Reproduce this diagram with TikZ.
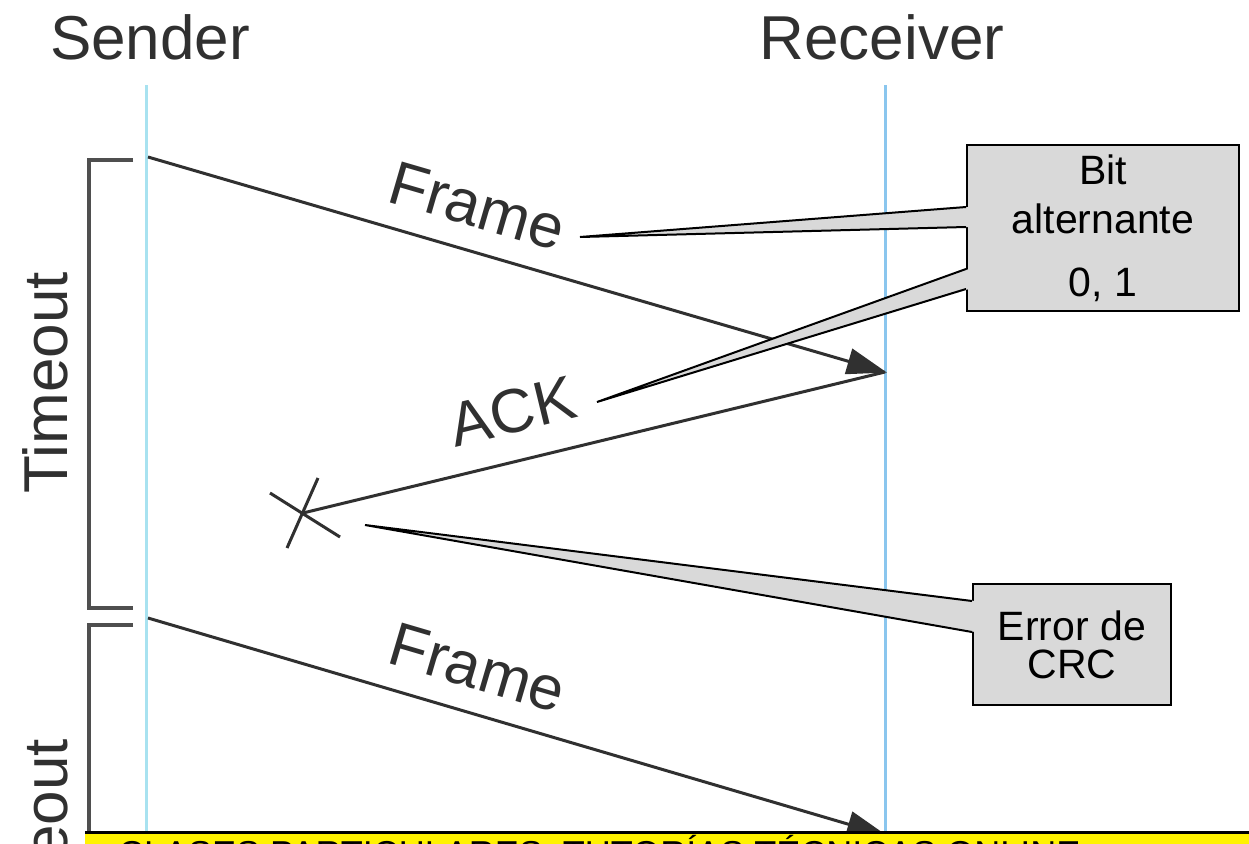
\documentclass[tikz,border=0pt]{standalone}
\usepackage{fontspec}
\setmainfont{Liberation Sans}
\usetikzlibrary{arrows.meta,calc}
\definecolor{sndlife}{RGB}{168,226,240}
\definecolor{rcvlife}{RGB}{138,198,238}
\definecolor{msgcol}{RGB}{48,48,48}
\definecolor{boxgray}{RGB}{217,217,217}
\newcommand{\bigfont}{\fontsize{62}{62}\selectfont}
\newcommand{\boxfont}{\fontsize{41}{49}\selectfont}
\newcommand{\drawbracket}[2]{\draw[bracket] (133,#1) -- (89,#1) -- (89,#2) -- (133,#2);}
\newcommand{\drawcross}[1]{%
  \draw[msg] ($(#1)+(-33,-20)$) -- ($(#1)+(37,24)$);
  \draw[msg] ($(#1)+(15,-35)$) -- ($(#1)+(-16,35)$);}
\newcommand{\calloutwedge}[4]{%
  \fill[boxgray] ($(#1.north west)+(3,#2)$) -- (#4) -- ($(#1.north west)+(3,#3)$) -- cycle;
  \draw[line width=2pt] ($(#1.north west)+(0,#2)$) -- (#4) -- ($(#1.north west)+(0,#3)$);}
\tikzset{
  lbl/.style={font=\bigfont, text=msgcol, inner sep=0pt},
  msg/.style={msgcol, line width=3pt},
  sent/.style={msg, -{Triangle[length=40pt,width=26pt]}, shorten >=-2pt},
  bracket/.style={draw=msgcol!85!white, line width=4pt},
  callout/.style={draw=black, line width=2pt, fill=boxgray, align=center, font=\boxfont, inner sep=0pt}
}
\begin{document}
\begin{tikzpicture}[x=1pt,y=-1pt]
  \clip (0,0) rectangle (1249,843);
  \fill[white] (0,0) rectangle (1249,843);

  \node[lbl] (sender) at (150,37) {Sender};
  \node[lbl] (receiver) at (882,37) {Receiver};

  \coordinate (s0) at (146,85);
  \coordinate (s9) at (146,845);
  \coordinate (r0) at (885,85);
  \coordinate (r9) at (885,845);
  \draw[sndlife, line width=3pt] (s0) -- (s9);
  \draw[rcvlife, line width=3pt] (r0) -- (r9);

  \coordinate (s1) at (148,157);
  \coordinate (r1) at (885,372);
  \coordinate (lost) at (303,513);
  \coordinate (s2) at (148,618);
  \coordinate (r2) at (885,835);

  % timeouts
  \drawbracket{160}{608}
  \drawbracket{625}{1074}
  \node[lbl, rotate=90] (tout1) at (45,383) {Timeout};
  \node[lbl, rotate=90] (tout2) at (45,850) {Timeout};

  % messages
  \draw[sent] (s1) -- (r1) node[lbl, pos=.43, sloped, above=22pt] (frame1) {Frame};
  \draw[msg] (lost) -- (r1) node[lbl, pos=.38, sloped, above=26pt] (ack) {ACK};
  \drawcross{lost}
  \draw[sent] (s2) -- (r2) node[lbl, pos=.43, sloped, above=22pt] (frame2) {Frame};

  % callouts
  \coordinate (ptframe) at (580,237);
  \coordinate (ptack) at (597,402);
  \coordinate (pterr) at (365,525);
  \node[callout, minimum width=272pt, minimum height=166pt] (bitbox) at (1103,228)
    {Bit\\alternante\\[14pt]0, 1};
  \calloutwedge{bitbox}{63}{83}{ptframe}
  \calloutwedge{bitbox}{125}{145}{ptack}
  \node[callout, minimum width=198pt, minimum height=121pt, font=\fontsize{41}{38}\selectfont] (crcbox) at (1072,644.5)
    {Error de\\CRC};
  \calloutwedge{crcbox}{18}{49}{pterr}

  % banner
  \fill[yellow] (85,832) rectangle (1249,900);
  \draw[line width=3pt] (85,832) -- (1249,832);
  \node[anchor=base west, inner sep=0pt, font=\fontsize{36}{36}\selectfont] (banner) at (118,866)
    {CLASES PARTICULARES, TUTORÍAS TÉCNICAS ONLINE};
\end{tikzpicture}
\end{document}
